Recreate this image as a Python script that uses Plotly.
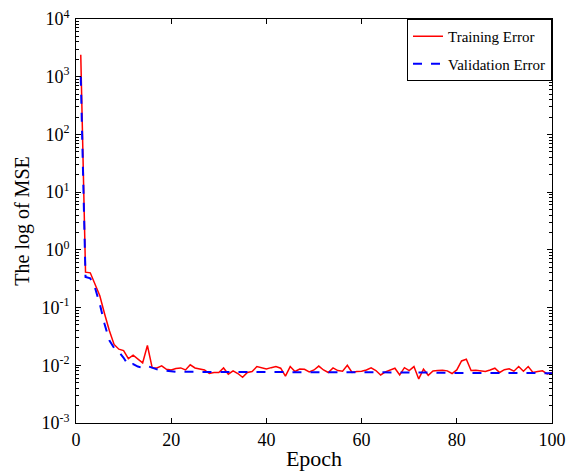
import plotly.graph_objects as go

# epochs and error values
epochs = list(range(1, 101))

training_error = [
    2400, 0.41, 0.40, 0.26, 0.16, 0.078, 0.040, 0.023, 0.019, 0.018,
    0.013, 0.015, 0.013, 0.011, 0.022, 0.0091, 0.0090, 0.0098, 0.0085, 0.0083,
    0.0088, 0.0090, 0.0083, 0.0102, 0.0090, 0.0087, 0.0083, 0.0072, 0.0075, 0.0075,
    0.0090, 0.0070, 0.0080, 0.0072, 0.0062, 0.0075, 0.0078, 0.0095, 0.0089, 0.0086,
    0.0091, 0.0095, 0.0089, 0.0065, 0.0095, 0.0078, 0.0086, 0.0085, 0.0077, 0.0083,
    0.0097, 0.0083, 0.0075, 0.0090, 0.0081, 0.0079, 0.0100, 0.0075, 0.0078, 0.0079,
    0.0083, 0.0090, 0.0081, 0.0068, 0.0077, 0.0083, 0.0089, 0.0068, 0.0091, 0.0081,
    0.0095, 0.0058, 0.0086, 0.0067, 0.0080, 0.0081, 0.0082, 0.0080, 0.0072, 0.0083,
    0.0119, 0.0127, 0.0081, 0.0082, 0.0080, 0.0078, 0.0083, 0.0089, 0.0075, 0.0084,
    0.0087, 0.0079, 0.0095, 0.0079, 0.0095, 0.0075, 0.0078, 0.0080, 0.0071, 0.0075,
]

validation_error = [
    1000, 0.34, 0.32, 0.22, 0.115, 0.052, 0.027, 0.020, 0.017, 0.0135,
    0.0100, 0.0105, 0.0095, 0.0090, 0.0097, 0.0090, 0.0085, 0.0082, 0.0080, 0.0078,
    0.0077, 0.0077, 0.0077, 0.0076, 0.0076, 0.0076, 0.0076, 0.0076, 0.0076, 0.0076,
    0.0076, 0.0076, 0.0076, 0.0076, 0.0076, 0.0076, 0.0076, 0.0076, 0.0076, 0.0076,
    0.0076, 0.0076, 0.0076, 0.0076, 0.0076, 0.0076, 0.0076, 0.0076, 0.0076, 0.0076,
    0.0075, 0.0075, 0.0075, 0.0075, 0.0075, 0.0075, 0.0075, 0.0075, 0.0075, 0.0075,
    0.0075, 0.0075, 0.0075, 0.0075, 0.0075, 0.0075, 0.0075, 0.0075, 0.0075, 0.0075,
    0.0075, 0.0075, 0.0075, 0.0075, 0.0075, 0.0074, 0.0074, 0.0074, 0.0074, 0.0074,
    0.0074, 0.0074, 0.0074, 0.0074, 0.0074, 0.0074, 0.0074, 0.0074, 0.0074, 0.0074,
    0.0073, 0.0073, 0.0073, 0.0073, 0.0073, 0.0073, 0.0073, 0.0073, 0.0073, 0.0073,
]

x_ticks = [0, 20, 40, 60, 80, 100]
y_exponents = [-3, -2, -1, 0, 1, 2, 3, 4]
y_ticks = [10.0 ** e for e in y_exponents]
y_ticktext = ["10<sup><span style='font-size:12px'>%d</span></sup>" % e for e in y_exponents]
# minor ticks 2..9 within each decade
y_minor = [m * 10.0 ** e for e in y_exponents[:-1] for m in range(2, 10)]

font_family = "Liberation Serif, Times New Roman, serif"

fig = go.Figure()
fig.add_trace(go.Scatter(
    x=epochs, y=training_error, mode="lines", name="Training Error",
    legendgroup="a", line=dict(color="#ff0000", width=1.5),
))
fig.add_trace(go.Scatter(
    x=epochs, y=validation_error, mode="lines", name="Validation Error",
    legendgroup="b", line=dict(color="#0000ff", width=2, dash="dash"),
))

axis_style = dict(
    showline=True, linecolor="black", linewidth=1, mirror="allticks",
    ticks="inside", ticklen=5, tickcolor="black", showgrid=False,
    zeroline=False, automargin=False, ticklabeloverflow="allow",
)

fig.update_layout(
    width=566, height=472,
    margin=dict(l=76, r=14, t=19, b=49),
    paper_bgcolor="white", plot_bgcolor="white",
    font=dict(family=font_family, color="black", size=18),
    xaxis=dict(
        range=[0, 100], tickmode="array", tickvals=x_ticks,
        title=dict(text="Epoch", font=dict(size=22), standoff=2),
        **axis_style,
    ),
    yaxis=dict(
        type="log", range=[-3, 4], tickmode="array",
        tickvals=y_ticks, ticktext=y_ticktext, ticklabelstandoff=2,
        title=dict(text="The log of MSE", font=dict(size=20), standoff=6),
        minor=dict(tickmode="array", tickvals=y_minor, ticks="inside",
                   ticklen=3, tickcolor="black", showgrid=False),
        **axis_style,
    ),
    legend=dict(
        x=1.0, y=1.0, xanchor="right", yanchor="top",
        bgcolor="white", bordercolor="black", borderwidth=1,
        font=dict(size=15), tracegroupgap=5, traceorder="grouped",
    ),
    showlegend=True,
)

# drop the default body margin so the figure fills the window exactly
fig.write_html("out.html", config={"displayModeBar": False},
               post_script="document.body.style.margin='0';")
